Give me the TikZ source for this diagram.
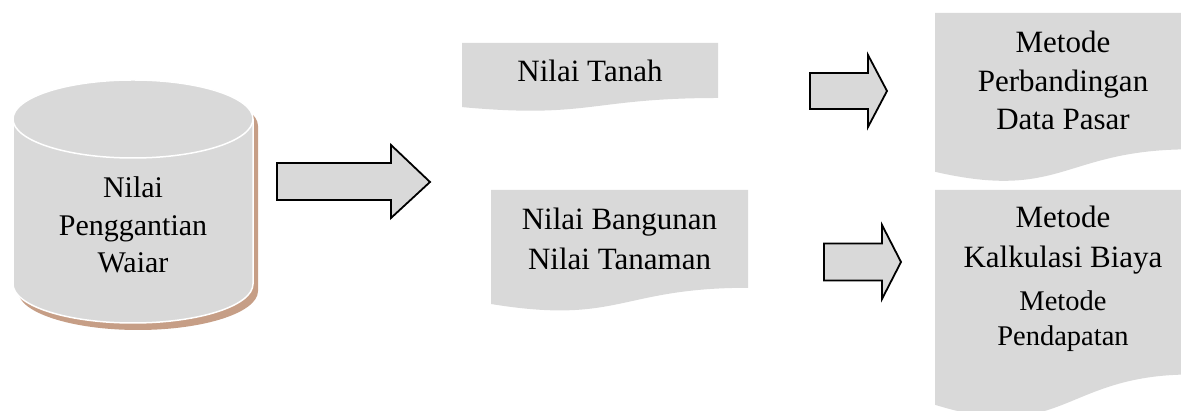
\documentclass[tikz,border=0pt]{standalone}
\usepackage{fontspec}
\setmainfont{Liberation Serif}
\definecolor{boxgray}{RGB}{217,217,217}
\definecolor{shadowtan}{RGB}{198,158,134}
\tikzset{
  docbox/.style={fill=boxgray, draw=none},
  blockarrow/.style={fill=boxgray, draw=black, line width=1.8pt, line join=miter},
  bigtext/.style={font=\fontsize{31}{39}\selectfont, align=center, anchor=base, inner sep=0pt},
  cyltext/.style={font=\fontsize{30}{37.5}\selectfont, align=center, anchor=base, inner sep=0pt},
  smalltext/.style={font=\fontsize{28.5}{35}\selectfont, align=center, anchor=base, inner sep=0pt}
}
\begin{document}
\begin{tikzpicture}[x=1pt,y=1pt]
\useasboundingbox (0,0) rectangle (1181,411);
\clip (0,0) rectangle (1181,411);

% cylinder shadow
\fill[shadowtan] (18,285) -- (18,120)
  arc[start angle=180,end angle=360,x radius=120,y radius=39]
  -- (258,285) arc[start angle=0,end angle=180,x radius=120,y radius=39] -- cycle;
% cylinder body
\draw[fill=boxgray, draw=white, line width=1.5pt] (13,292) -- (13,127)
  arc[start angle=180,end angle=360,x radius=120,y radius=39]
  -- (253,292) arc[start angle=0,end angle=180,x radius=120,y radius=39] -- cycle;
\draw[white, line width=1.5pt] (13,292) arc[start angle=180,end angle=360,x radius=120,y radius=39];
\node[cyltext] (nilaipw) at (133,138) {Nilai\\Penggantian\\Waiar};

% big block arrow
\draw[blockarrow] (277,248) -- (391,248) -- (391,266) -- (430,229)
  -- (391,193) -- (391,211) -- (277,211) -- cycle;

% document shapes
\fill[docbox] (462,368) -- (718,368) -- (718,313)
  .. controls (590,313) and (590,292.1) .. (462,303.9) -- cycle;
\node[bigtext] (tanah) at (590,329) {Nilai Tanah};

\fill[docbox] (491,221) -- (748,221) -- (748,123.2)
  .. controls (619.5,123.2) and (619.5,86) .. (491,107) -- cycle;
\node[bigtext, font=\fontsize{31}{40}\selectfont] (bangunan) at (619.5,141) {Nilai Bangunan\\Nilai Tanaman};

\fill[docbox] (935,398) -- (1191,398) -- (1191,261.7)
  .. controls (1063,261.7) and (1063,209.8) .. (935,239.2) -- cycle;
\node[bigtext, font=\fontsize{31}{38.5}\selectfont] (pasar) at (1063,281) {Metode\\Perbandingan\\Data Pasar};

\fill[docbox] (935,221) -- (1191,221) -- (1191,36.5)
  .. controls (1063,36.5) and (1063,-33.6) .. (935,6.2) -- cycle;
\node[bigtext, font=\fontsize{31}{40}\selectfont] (biaya) at (1063,143) {Metode\\Kalkulasi Biaya};
\node[smalltext] (pendapatan) at (1063,65) {Metode\\Pendapatan};

% small block arrows
\draw[blockarrow] (810,338) -- (868,338) -- (868,356) -- (887,320)
  -- (868,284) -- (868,302) -- (810,302) -- cycle;
\draw[blockarrow] (824,167.5) -- (882,167.5) -- (882,186) -- (901,149)
  -- (882,112) -- (882,130.5) -- (824,130.5) -- cycle;
\end{tikzpicture}
\end{document}
